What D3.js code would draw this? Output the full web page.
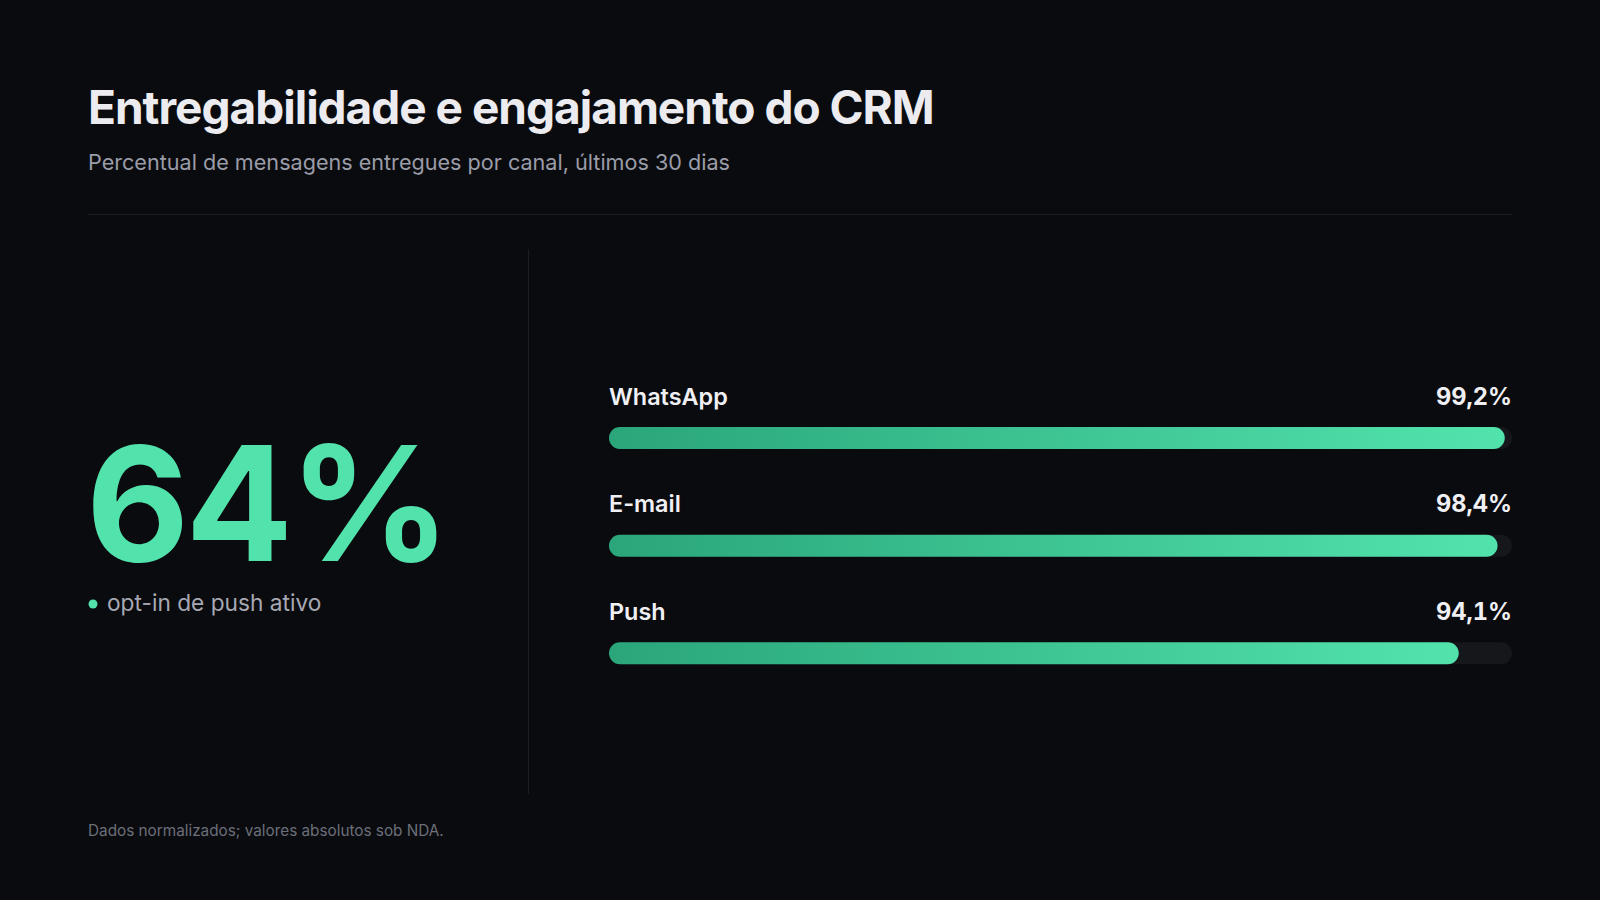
<!DOCTYPE html>
<html>
<head>
<meta charset="utf-8">
<script src="https://cdn.jsdelivr.net/npm/d3@7"></script>
<style>
  html, body { margin: 0; padding: 0; background: #0a0b0e; }
  svg { display: block; font-family: Inter, "Noto Sans", sans-serif; }
  .num { font-variant-numeric: tabular-nums; font-feature-settings: "tnum" 1; }
</style>
</head>
<body>
<div id="chart"></div>
<script>
const title = 'Entregabilidade e engajamento do CRM';
const subtitle = 'Percentual de mensagens entregues por canal, últimos 30 dias';
const footnote = 'Dados normalizados; valores absolutos sob NDA.';

const kpiValue = 64;
const kpiLabel = 'opt-in de push ativo';

const channels = ['WhatsApp', 'E-mail', 'Push'];
const delivered = [99.2, 98.4, 94.1];

const width = 1600;
const height = 900;
const margin = { left: 88, right: 88 };

const svg = d3.select('#chart').append('svg')
  .attr('width', width)
  .attr('height', height);

svg.append('rect')
  .attr('width', width)
  .attr('height', height)
  .attr('fill', '#0a0b0e');

const defs = svg.append('defs');
const grad = defs.append('linearGradient')
  .attr('id', 'barGrad')
  .attr('x1', 0).attr('x2', 1).attr('y1', 0).attr('y2', 0);
grad.append('stop').attr('offset', '0%').attr('stop-color', '#2aa67a');
grad.append('stop').attr('offset', '100%').attr('stop-color', '#52e3ad');

// header
svg.append('text')
  .attr('x', margin.left)
  .attr('y', 124)
  .attr('fill', '#ececf0')
  .attr('font-size', 46)
  .attr('font-weight', 700)
  .attr('letter-spacing', -1)
  .text(title);

svg.append('text')
  .attr('x', margin.left)
  .attr('y', 170)
  .attr('fill', '#9a9ca8')
  .attr('font-size', 21.6)
  .text(subtitle);

svg.append('line')
  .attr('x1', margin.left).attr('x2', width - margin.right)
  .attr('y1', 214.5).attr('y2', 214.5)
  .attr('stroke', '#1c1e23');

svg.append('line')
  .attr('x1', 528.5).attr('x2', 528.5)
  .attr('y1', 249).attr('y2', 794)
  .attr('stroke', '#1c1e23');

// KPI
svg.append('text')
  .attr('x', margin.left - 2)
  .attr('y', 561)
  .attr('fill', '#52e3ad')
  .attr('font-size', 159)
  .attr('font-weight', 700)
  .attr('letter-spacing', -3.8)
  .text(`${kpiValue}%`);

svg.append('circle')
  .attr('cx', 93).attr('cy', 604).attr('r', 4.5)
  .attr('fill', '#52e3ad');

svg.append('text')
  .attr('x', 107)
  .attr('y', 611)
  .attr('fill', '#a6a8b4')
  .attr('font-size', 22.7)
  .text(kpiLabel);

// bars
const x = d3.scaleLinear()
  .domain([0, 100])
  .range([609, width - margin.right]);

const y = d3.scaleBand()
  .domain(channels)
  .range([381, 704])
  .paddingInner(0);

const barH = 22;

const row = svg.selectAll('.row')
  .data(channels)
  .enter().append('g')
  .attr('class', 'row')
  .attr('transform', d => `translate(0,${y(d)})`);

row.append('text')
  .attr('x', x(0))
  .attr('y', 23.5)
  .attr('fill', '#f0f0f4')
  .attr('font-size', 23.4)
  .attr('font-weight', 600)
  .text(d => d);

row.append('text')
  .attr('class', 'num')
  .attr('x', x(100))
  .attr('y', 23.5)
  .attr('text-anchor', 'end')
  .attr('fill', '#f0f0f4')
  .attr('font-size', 23.6)
  .attr('font-weight', 700)
  .text((d, i) => d3.format('.1f')(delivered[i]).replace('.', ',') + '%');

row.append('rect')
  .attr('x', x(0))
  .attr('y', 46)
  .attr('width', x(100) - x(0))
  .attr('height', barH)
  .attr('rx', barH / 2)
  .attr('fill', '#15171b');

row.append('rect')
  .attr('x', x(0))
  .attr('y', 46)
  .attr('width', (d, i) => x(delivered[i]) - x(0))
  .attr('height', barH)
  .attr('rx', barH / 2)
  .attr('fill', 'url(#barGrad)');

svg.append('text')
  .attr('x', margin.left)
  .attr('y', 836)
  .attr('fill', '#6c6f7a')
  .attr('font-size', 15.3)
  .text(footnote);
</script>
</body>
</html>
